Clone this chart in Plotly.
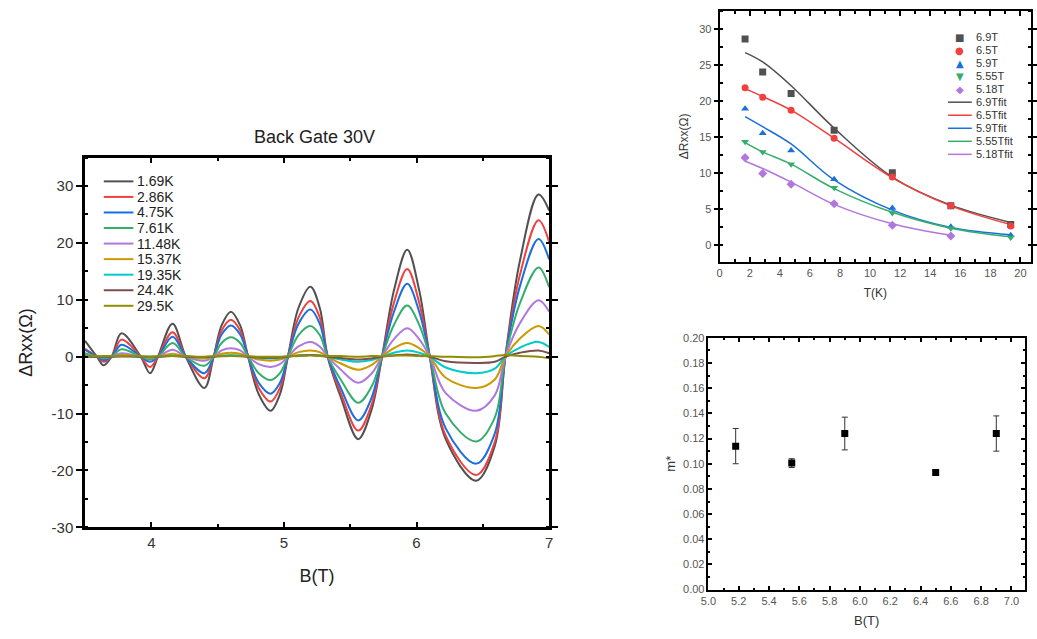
import plotly.graph_objects as go

# ---------------- Left panel: SdH oscillations (Back Gate 30V) ----------------
B_nodes = [3.50, 3.59, 3.64, 3.70, 3.775, 3.92, 3.99, 4.05, 4.16, 4.26, 4.40, 4.47,
           4.53, 4.60, 4.67, 4.73, 4.81, 4.90, 4.97, 5.03, 5.11, 5.20, 5.27, 5.33,
           5.43, 5.56, 5.66, 5.74, 5.83, 5.93, 6.02, 6.10, 6.22, 6.45, 6.59, 6.67,
           6.78, 6.92, 7.00]

temps = ["1.69K", "2.86K", "4.75K", "7.61K", "11.48K", "15.37K", "19.35K", "24.4K", "29.5K"]

dR_1p69 = [2.8, 0, -1.5, 0, 4.1, 0, -2.9, 0, 5.8, 0, -5.5, 0,
           5.5, 7.9, 5.5, 0, -6.6, -9.5, -6.6, 0, 8.6, 12.3, 8.6, 0,
           -7.2, -14.5, -9.4, 0, 11.7, 18.8, 11.7, 0, -14.5, -21.8, -15.7, 0,
           16.9, 28.5, 25.7]
dR_2p86 = [1.4, 0, -0.9, 0, 3.0, 0, -1.8, 0, 4.3, 0, -3.8, 0,
           4.6, 6.5, 4.6, 0, -5.5, -7.9, -5.5, 0, 6.9, 9.8, 6.9, 0,
           -6.5, -13.0, -8.5, 0, 9.5, 15.4, 9.5, 0, -13.9, -20.8, -15.0, 0,
           14.4, 24.0, 20.2]
dR_4p75 = [1.2, 0, -0.6, 0, 2.1, 0, -0.9, 0, 3.5, 0, -2.9, 0,
           3.9, 5.5, 3.9, 0, -4.6, -6.5, -4.6, 0, 5.8, 8.3, 5.8, 0,
           -5.6, -11.2, -7.3, 0, 7.9, 12.8, 7.9, 0, -12.6, -18.8, -13.5, 0,
           12.4, 20.7, 17.1]
dR_7p61 = [0.6, 0, -0.3, 0, 1.3, 0, -0.5, 0, 2.4, 0, -1.6, 0,
           2.4, 3.4, 2.4, 0, -2.9, -4.1, -2.9, 0, 3.8, 5.4, 3.8, 0,
           -4.1, -8.1, -5.3, 0, 5.6, 9.0, 5.6, 0, -10.0, -14.9, -10.7, 0,
           9.4, 15.7, 12.2]
dR_11p48 = [0.3, 0, -0.1, 0, 0.6, 0, -0.2, 0, 1.2, 0, -0.7, 0,
            1.1, 1.5, 1.1, 0, -1.3, -1.8, -1.3, 0, 1.8, 2.6, 1.8, 0,
            -2.3, -4.6, -3.0, 0, 3.1, 5.0, 3.1, 0, -6.4, -9.5, -6.8, 0,
            5.9, 9.9, 7.9]
dR_15p37 = [0.1, 0, 0.0, 0, 0.3, 0, -0.1, 0, 0.5, 0, -0.3, 0,
            0.5, 0.7, 0.5, 0, -0.5, -0.7, -0.5, 0, 0.8, 1.1, 0.8, 0,
            -1.2, -2.3, -1.5, 0, 1.5, 2.4, 1.5, 0, -3.7, -5.5, -4.0, 0,
            3.2, 5.4, 3.9]
dR_19p35 = [0.05, 0, 0.0, 0, 0.1, 0, 0.0, 0, 0.2, 0, -0.1, 0,
            0.2, 0.3, 0.2, 0, -0.2, -0.3, -0.2, 0, 0.2, 0.3, 0.2, 0,
            -0.5, -0.9, -0.6, 0, 0.7, 1.1, 0.7, 0, -1.9, -2.9, -2.1, 0,
            1.6, 2.6, 1.7]
dR_24p4 = [0.0, 0, 0.0, 0, 0.05, 0, 0.0, 0, 0.1, 0, -0.05, 0,
           0.07, 0.1, 0.07, 0, -0.14, -0.2, -0.14, 0, 0.2, 0.3, 0.2, 0,
           -0.25, -0.5, -0.3, 0, 0.2, 0.4, 0.2, 0, -0.8, -1.1, -0.9, 0,
           0.7, 1.1, 0.6]
dR_29p5 = [0.2, 0.1, 0.1, 0.1, 0.1, 0.1, 0.0, 0.1, 0.1, 0.1, 0.0, 0.1,
           0.1, 0.1, 0.1, 0.1, 0.0, 0.0, 0.0, 0.1, 0.1, 0.2, 0.1, 0.1,
           0.1, 0.0, 0.1, 0.1, 0.2, 0.2, 0.1, 0.1, 0.0, -0.1, 0.1, 0.3,
           0.1, 0.0, -0.3]

osc_series = [dR_1p69, dR_2p86, dR_4p75, dR_7p61, dR_11p48, dR_15p37, dR_19p35, dR_24p4, dR_29p5]
colors = ["#515151", "#F14040", "#1A6FDF", "#37AD6B", "#B177DE", "#CC9900", "#00CBCC", "#7D4E4E", "#8E8E00"]

y_ticks_left = [-30, -20, -10, 0, 10, 20, 30]

# ---------------- Top-right panel: amplitude vs T ----------------
T_pts = [1.69, 2.86, 4.75, 7.61, 11.48, 15.37, 19.35]
fields = ["6.9T", "6.5T", "5.9T", "5.55T", "5.18T"]
R_6p9 = [28.6, 24.0, 21.0, 15.9, 10.0, 5.4, 2.8]
R_6p5 = [21.8, 20.5, 18.7, 14.8, 9.4, 5.4, 2.6]
R_5p9 = [18.9, 15.5, 13.1, 9.1, 5.1, 2.5, 1.3]
R_5p55 = [14.3, 12.9, 11.2, 7.9, 4.4, 2.3, 1.0]
R_5p18 = [12.1, 9.9, 8.4, 5.7, 2.7, 1.2]
fit_6p9 = [26.7, 25.4, 22.1, 16.2, 9.4, 5.5, 3.1]
fit_6p5 = [21.7, 20.6, 18.7, 14.8, 9.3, 5.4, 2.8]
fit_5p9 = [17.8, 16.4, 14.0, 9.0, 4.8, 2.4, 1.4]
fit_5p55 = [14.2, 12.9, 11.2, 7.8, 4.5, 2.3, 1.1]
fit_5p18 = [11.6, 10.6, 8.7, 5.6, 2.9, 1.3]
amp_series = [R_6p9, R_6p5, R_5p9, R_5p55, R_5p18]
fit_series = [fit_6p9, fit_6p5, fit_5p9, fit_5p55, fit_5p18]
amp_colors = ["#515151", "#F14040", "#1A6FDF", "#37AD6B", "#B177DE"]
amp_symbols = ["square", "circle", "triangle-up", "triangle-down", "diamond"]
amp_glyphs = ["■", "●", "▲", "▼", "◆"]

# ---------------- Bottom-right panel: effective mass ----------------
B_mass = [5.18, 5.55, 5.9, 6.5, 6.9]
m_eff = [0.114, 0.1005, 0.124, 0.093, 0.124]
m_err = [0.014, 0.0035, 0.013, 0.0008, 0.014]

W, H = 1037, 639
def px(x):
    return x / W
def py(y):
    return 1 - y / H

FONT = "Arial, Liberation Sans, Helvetica, sans-serif"

fig = go.Figure()

for name, vals, c in zip(temps, osc_series, colors):
    fig.add_trace(go.Scatter(x=B_nodes, y=vals, mode="lines", name=name,
                             line=dict(color=c, width=2, shape="spline", smoothing=1.0),
                             xaxis="x", yaxis="y", showlegend=False))

for f, fit, c in zip(fields, fit_series, amp_colors):
    fig.add_trace(go.Scatter(x=T_pts[:len(fit)], y=fit, mode="lines", name=f + "fit",
                             line=dict(color=c, width=1.5, shape="spline", smoothing=1.0),
                             xaxis="x2", yaxis="y2", showlegend=False))
for f, vals, c, s in zip(fields, amp_series, amp_colors, amp_symbols):
    fig.add_trace(go.Scatter(x=T_pts[:len(vals)], y=vals, mode="markers", name=f,
                             marker=dict(color=c, symbol=s, size=7),
                             xaxis="x2", yaxis="y2", showlegend=False))

fig.add_trace(go.Scatter(x=B_mass, y=m_eff, mode="markers", name="m*",
                         marker=dict(color="black", symbol="square", size=7),
                         error_y=dict(type="data", array=m_err, visible=True,
                                      color="#333333", thickness=1, width=3),
                         xaxis="x3", yaxis="y3", showlegend=False))

axis_common = dict(showline=True, linecolor="black", mirror="ticks", showgrid=False,
                   zeroline=False, tickcolor="black")

fig.update_layout(
    width=W, height=H, margin=dict(l=0, r=0, t=0, b=0),
    paper_bgcolor="white", plot_bgcolor="white",
    font=dict(family=FONT, color="#222222"),
    xaxis=dict(axis_common, domain=[px(78), px(548)], range=[3.5, 7], tick0=4, dtick=1,
               ticks="inside", ticklen=6, tickwidth=2, linewidth=2.5,
               minor=dict(dtick=0.5, tick0=3.5, ticks="inside", ticklen=4, tickwidth=2, tickcolor="black"),
               tickfont=dict(size=15, color="#333333"),
               title=dict(text="B(T)", font=dict(size=18, color="#222222"), standoff=20),
               anchor="y"),
    yaxis=dict(axis_common, domain=[py(533), py(155)], range=[-30, 35],
               tickmode="array", tickvals=y_ticks_left, ticktext=[str(v) for v in y_ticks_left],
               ticks="outside", ticklen=6, tickwidth=2, linewidth=2.5,
               minor=dict(tickmode="linear", tick0=-30, dtick=5, ticks="inside", ticklen=3, tickwidth=2, tickcolor="black"),
               tickfont=dict(size=15, color="#333333"),
               title=dict(text="ΔRxx(Ω)", font=dict(size=18, color="#222222"), standoff=15),
               anchor="x"),
    xaxis2=dict(axis_common, domain=[px(720.7), px(1036)], range=[0, 20.7], tick0=0, dtick=2,
                ticks="inside", ticklen=5, tickwidth=1.5, linewidth=2,
                minor=dict(dtick=1, ticks="inside", ticklen=3, tickwidth=1.5, tickcolor="black"),
                tickfont=dict(size=11, color="#555555"),
                title=dict(text="T(K)", font=dict(size=12, color="#333333"), standoff=10),
                anchor="y2"),
    yaxis2=dict(axis_common, domain=[py(261.7), py(5)], range=[-2.4, 32.5], tick0=0, dtick=5,
                ticks="outside", ticklen=4, tickwidth=1.5, linewidth=2,
                minor=dict(dtick=2.5, ticks="inside", ticklen=3, tickwidth=1.5, tickcolor="black"),
                tickfont=dict(size=11, color="#555555"),
                title=dict(text="ΔRxx(Ω)", font=dict(size=12, color="#333333"), standoff=8),
                anchor="x2"),
    xaxis3=dict(axis_common, domain=[px(709.3), px(1030)], range=[5.0, 7.09], tick0=5.0, dtick=0.2,
                tickformat=".1f", ticks="inside", ticklen=4, tickwidth=1.5, linewidth=1.5,
                minor=dict(dtick=0.1, ticks="inside", ticklen=2, tickwidth=1.5, tickcolor="black"),
                tickfont=dict(size=11, color="#555555"),
                title=dict(text="B(T)", font=dict(size=13, color="#333333"), standoff=10),
                anchor="y3"),
    yaxis3=dict(axis_common, domain=[py(596.7), py(339.3)], range=[0, 0.2], tick0=0, dtick=0.02,
                tickformat=".2f", ticks="inside", ticklen=4, tickwidth=1.5, linewidth=1.5,
                minor=dict(dtick=0.01, ticks="inside", ticklen=2, tickwidth=1.5, tickcolor="black"),
                tickfont=dict(size=11, color="#555555"),
                title=dict(text="m*", font=dict(size=13, color="#333333"), standoff=4),
                anchor="x3"),
)

annotations = [dict(text="Back Gate 30V", x=px(310), y=py(134), xref="paper", yref="paper",
                    showarrow=False, font=dict(size=18, color="#222222"), xanchor="center", yanchor="middle")]
shapes = []

# legend for left panel
for i, (name, c) in enumerate(zip(temps, colors)):
    yy = 179.3 + i * 15.9
    shapes.append(dict(type="line", xref="paper", yref="paper", x0=px(97), x1=px(127),
                       y0=py(yy), y1=py(yy), line=dict(color=c, width=2)))
    annotations.append(dict(text=name, x=px(128.5), y=py(yy), xref="paper", yref="paper",
                            showarrow=False, xanchor="left", yanchor="middle",
                            font=dict(size=14, color="#222222")))

# legend for top-right panel
for i, (f, c, g) in enumerate(zip(fields, amp_colors, amp_glyphs)):
    yy = 31.7 + i * 13.33
    annotations.append(dict(text=g, x=px(964), y=py(yy), xref="paper", yref="paper",
                            showarrow=False, xanchor="center", yanchor="middle",
                            font=dict(size=10, color=c, family="DejaVu Sans")))
    annotations.append(dict(text=f, x=px(978.5), y=py(yy), xref="paper", yref="paper",
                            showarrow=False, xanchor="left", yanchor="middle",
                            font=dict(size=11, color="#333333")))
for i, (f, c) in enumerate(zip(fields, amp_colors)):
    yy = 31.7 + (i + 5) * 13.33
    shapes.append(dict(type="line", xref="paper", yref="paper", x0=px(952), x1=px(976),
                       y0=py(yy), y1=py(yy), line=dict(color=c, width=1.5)))
    annotations.append(dict(text=f + "fit", x=px(978.5), y=py(yy), xref="paper", yref="paper",
                            showarrow=False, xanchor="left", yanchor="middle",
                            font=dict(size=11, color="#333333")))

fig.update_layout(annotations=annotations, shapes=shapes)

fig.write_html("out.html", config={"displayModeBar": False},
               post_script="document.body.style.margin='0px';document.body.style.overflow='hidden';")
